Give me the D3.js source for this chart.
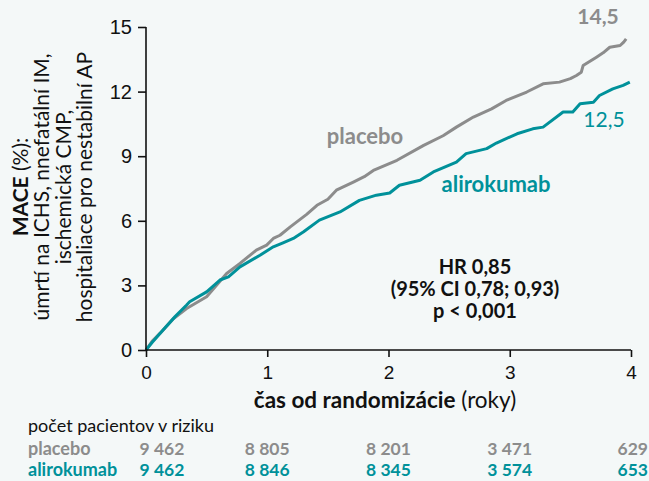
<!DOCTYPE html>
<html><head><meta charset="utf-8">
<script src="https://cdn.jsdelivr.net/npm/d3@7"></script>
<style>
html,body{margin:0;padding:0;background:#f4f8f8;}
svg{display:block;font-family:"Source Sans Pro",Lato,"Noto Sans",sans-serif;}
</style></head>
<body><svg id="c" width="649" height="481"></svg>
<script>
const years = [0,1,2,3,4];
const yTicks = [0,3,6,9,12,15];
const placeboYears = [0,0.05,0.115,0.225,0.335,0.5,0.665,0.775,0.91,0.995,1.05,1.105,1.19,1.325,1.41,1.5,1.57,1.71,1.8,1.875,2.07,2.29,2.45,2.56,2.7,2.85,2.97,3.14,3.275,3.41,3.5,3.55,3.59,3.605,3.715,3.77,3.825,3.91,3.94,3.96];
const placeboVals  = [0,0.4,0.77,1.45,1.93,2.47,3.55,4.02,4.64,4.87,5.18,5.33,5.72,6.30,6.72,7.0,7.42,7.80,8.05,8.34,8.81,9.50,9.95,10.35,10.82,11.2,11.59,11.98,12.36,12.44,12.6,12.75,12.9,13.21,13.60,13.8,14.06,14.14,14.3,14.45];
const aliroYears = [0,0.05,0.115,0.24,0.335,0.36,0.5,0.61,0.68,0.775,0.94,1.05,1.13,1.215,1.30,1.43,1.60,1.76,1.90,2.01,2.09,2.26,2.37,2.56,2.64,2.81,2.89,3.06,3.19,3.275,3.44,3.52,3.58,3.69,3.74,3.85,3.935,3.99];
const aliroVals  = [0,0.35,0.77,1.55,2.09,2.24,2.70,3.25,3.40,3.86,4.40,4.79,4.98,5.18,5.49,6.03,6.41,6.95,7.19,7.29,7.65,7.88,8.27,8.73,9.12,9.35,9.61,10.04,10.27,10.35,11.05,11.05,11.44,11.51,11.82,12.13,12.29,12.44];
const riskPlacebo = ["9 462","8 805","8 201","3 471","629"];
const riskAliro   = ["9 462","8 846","8 345","3 574","653"];
const endPlacebo = "14,5", endAliro = "12,5";
const statLines = ["HR 0,85","(95% CI 0,78; 0,93)","p < 0,001"];

const GRAY = "#8c8c8c", TEAL = "#00919a", INK = "#111";
const svg = d3.select("#c");
const x = d3.scaleLinear().domain([0,4]).range([146,631]);
const y = d3.scaleLinear().domain([0,15]).range([350,27]);

const line = d3.line().x(d=>x(d[0])).y(d=>y(d[1]));
const pData = placeboYears.map((t,i)=>[t,placeboVals[i]]);
const aData = aliroYears.map((t,i)=>[t,aliroVals[i]]);
svg.append("path").attr("d",line(pData)).attr("fill","none").attr("stroke",GRAY).attr("stroke-width",3).attr("stroke-linejoin","round");
svg.append("path").attr("d",line(aData)).attr("fill","none").attr("stroke",TEAL).attr("stroke-width",3).attr("stroke-linejoin","round");

const ya = svg.append("g").attr("transform","translate(146,0)").call(d3.axisLeft(y).tickValues(yTicks).tickFormat(d3.format("d")).tickSize(8).tickPadding(6));
const xa = svg.append("g").attr("transform","translate(0,350)").call(d3.axisBottom(x).tickValues(years).tickFormat(d3.format("d")).tickSize(7).tickPadding(9));
[ya,xa].forEach(g=>{
  g.select(".domain").attr("stroke",INK).attr("stroke-width",1.6);
  g.selectAll(".tick line").attr("stroke",INK).attr("stroke-width",1.6);
  g.selectAll("text").attr("fill",INK).style("font-size","20px").style("font-family","inherit");
});
xa.selectAll("text").style("font-size","19px");
ya.select(".domain").attr("d","M-0,27V350");
xa.select(".domain").attr("d","M146,0H631");

// x title
const xt = svg.append("text").attr("x",385).attr("y",408).attr("text-anchor","middle").attr("fill",INK).style("font-size","22.5px");
xt.append("tspan").attr("font-weight","bold").text("čas od randomizácie");
xt.append("tspan").text(" (roky)");

// y title
const yt = svg.append("g").attr("transform","translate(0,187) rotate(-90)");
const l1 = yt.append("text").attr("x",0).attr("y",28).attr("text-anchor","middle").attr("fill",INK).style("font-size","21px");
l1.append("tspan").attr("font-weight","bold").text("MACE");
l1.append("tspan").text(" (%):");
const ylines = ["úmrtí na ICHS, nnefatální IM,","ischemická CMP,","hospitaliace pro nestabilní AP"];
ylines.forEach((s,i)=>yt.append("text").attr("x",0).attr("y",49+i*21.5).attr("text-anchor","middle").attr("fill",INK).style("font-size","21px").text(s));

// series labels
svg.append("text").attr("x",365).attr("y",144).attr("text-anchor","middle").attr("fill",GRAY).attr("font-weight","bold").style("font-size","22px").text("placebo");
svg.append("text").attr("x",496).attr("y",192).attr("text-anchor","middle").attr("fill",TEAL).attr("font-weight","bold").style("font-size","22px").text("alirokumab");
svg.append("text").attr("x",598).attr("y",24).attr("text-anchor","middle").attr("fill",GRAY).attr("font-weight","bold").style("font-size","21px").text(endPlacebo);
svg.append("text").attr("x",604).attr("y",127).attr("text-anchor","middle").attr("fill",TEAL).style("font-size","21px").text(endAliro);

statLines.forEach((s,i)=>svg.append("text").attr("x",475).attr("y",274+i*22).attr("text-anchor","middle").attr("fill",INK).attr("font-weight","bold").style("font-size","20px").text(s));

// risk table
svg.append("text").attr("x",28).attr("y",432).attr("fill",INK).style("font-size","18px").text("počet pacientov v riziku");
svg.append("text").attr("x",28).attr("y",455).attr("fill",GRAY).attr("font-weight","bold").style("font-size","18px").text("placebo");
svg.append("text").attr("x",28).attr("y",476).attr("fill",TEAL).attr("font-weight","bold").style("font-size","18px").text("alirokumab");
const colX = i => i===0 ? x(0)+16 : (i===4 ? 648 : x(i));
const colAnchor = i => i===4 ? "end" : "middle";
riskPlacebo.forEach((v,i)=>svg.append("text").attr("x",colX(i)).attr("y",455).attr("text-anchor",colAnchor(i)).attr("fill",GRAY).attr("font-weight","bold").style("font-size","17.5px").text(v));
riskAliro.forEach((v,i)=>svg.append("text").attr("x",colX(i)).attr("y",476).attr("text-anchor",colAnchor(i)).attr("fill",TEAL).attr("font-weight","bold").style("font-size","17.5px").text(v));
</script></body></html>
